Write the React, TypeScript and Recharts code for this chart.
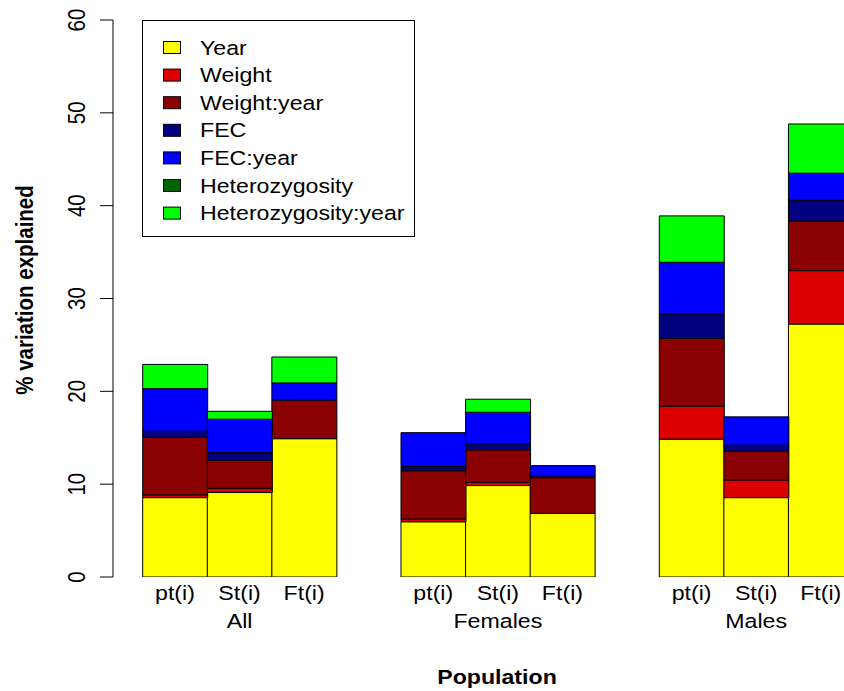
import React from 'react';
import { BarChart, Bar, XAxis, YAxis, Legend, Label } from 'recharts';

// Categories
const groups = ['All', 'Females', 'Males'];
const measures = ['pt(i)', 'St(i)', 'Ft(i)'];
const yTicks = [0, 10, 20, 30, 40, 50, 60];

// Series (order: All pt/St/Ft, Females pt/St/Ft, Males pt/St/Ft)
const seriesNames = ['Year', 'Weight', 'Weight:year', 'FEC', 'FEC:year', 'Heterozygosity', 'Heterozygosity:year'];
const seriesColors = ['#FFFF00', '#DD0000', '#8B0000', '#000080', '#0000FF', '#006400', '#00FF00'];

const yearVals = [8.55, 9.1, 14.9, 5.95, 9.85, 6.85, 14.85, 8.55, 27.25];
const weightVals = [0.3, 0.45, 0, 0.3, 0.35, 0, 3.55, 1.9, 5.75];
const weightYearVals = [6.2, 3.0, 4.15, 5.2, 3.5, 3.85, 7.3, 3.1, 5.35];
const fecVals = [0.65, 0.85, 0, 0.45, 0.65, 0.2, 2.6, 0.65, 2.25];
const fecYearVals = [4.6, 3.6, 1.85, 3.65, 3.4, 1.1, 5.6, 3.05, 2.9];
const hetVals = [0, 0, 0, 0, 0, 0, 0, 0, 0];
const hetYearVals = [2.6, 0.85, 2.8, 0, 1.4, 0, 5.0, 0, 5.3];

const seriesValues = [yearVals, weightVals, weightYearVals, fecVals, fecYearVals, hetVals, hetYearVals];

type Row = { key: string; group?: string; measure?: string; [k: string]: any };

const data: Row[] = [];
groups.forEach((g, gi) => {
  if (gi > 0) data.push({ key: `gap${gi}` });
  measures.forEach((m, mi) => {
    const idx = gi * measures.length + mi;
    const row: Row = { key: `${g}|${m}`, group: g, measure: m };
    seriesValues.forEach((vals, si) => {
      row[`s${si}`] = vals[idx];
    });
    data.push(row);
  });
});

const FONT = '"Liberation Sans", Arial, sans-serif';
const SX = 1.13;
const FS = 20.5;

const XTick = (props: any) => {
  const { x, payload } = props;
  const row = data.find((r) => r.key === payload.value);
  if (!row || !row.measure) return <g />;
  const mi = measures.indexOf(row.measure);
  return (
    <g>
      <text
        transform={`translate(${x}, 600) scale(${SX},1)`}
        textAnchor="middle"
        fontFamily={FONT}
        fontSize={FS}
        fill="#000"
      >
        {row.measure}
      </text>
      {mi === 1 && (
        <text
          transform={`translate(${x}, 628) scale(${SX},1)`}
          textAnchor="middle"
          fontFamily={FONT}
          fontSize={FS}
          fill="#000"
        >
          {row.group}
        </text>
      )}
    </g>
  );
};

const YTick = (props: any) => {
  const { y, payload } = props;
  return (
    <text
      transform={`translate(77, ${y}) scale(${SX},1) rotate(-90)`}
      textAnchor="middle"
      dominantBaseline="central"
      fontFamily={FONT}
      fontSize={FS}
      fill="#000"
    >
      {payload.value}
    </text>
  );
};

const YLabel = () => (
  <text
    transform={`translate(25, 290) scale(${SX},1) rotate(-90)`}
    textAnchor="middle"
    dominantBaseline="central"
    fontFamily={FONT}
    fontSize={FS}
    fontWeight="bold"
    fill="#000"
  >
    % variation explained
  </text>
);

const XLabel = () => (
  <text
    transform={`translate(497, 684) scale(${SX},1)`}
    textAnchor="middle"
    fontFamily={FONT}
    fontSize={FS}
    fontWeight="bold"
    fill="#000"
  >
    Population
  </text>
);

const LegendBox = () => (
  <svg width={274} height={218} style={{ display: 'block' }}>
    <rect x={0.5} y={0.5} width={272} height={216} fill="#fff" stroke="#000" strokeWidth={1} />
    {seriesNames.map((name, i) => {
      const cy = 27.5 + i * 27.6;
      return (
        <g key={name}>
          <rect x={21.5} y={cy - 6} width={17} height={12} fill={seriesColors[i]} stroke="#000" strokeWidth={1} />
          <text
            transform={`translate(58, ${cy}) scale(${SX},1)`}
            dominantBaseline="central"
            fontFamily={FONT}
            fontSize={FS}
            fill="#000"
          >
            {name}
          </text>
        </g>
      );
    })}
  </svg>
);

export default function App() {
  return (
    <div
      style={{
        position: 'absolute',
        left: 0,
        top: 0,
        width: 844,
        height: 691,
        overflow: 'hidden',
        background: '#fff',
      }}
    >
      <BarChart
        width={853}
        height={691}
        data={data}
        margin={{ top: 20, right: 0, bottom: 0, left: 0 }}
        barCategoryGap={0}
        barGap={0}
      >
        <XAxis
          dataKey="key"
          height={114}
          axisLine={false}
          tickLine={false}
          interval={0}
          padding={{ left: 29.7, right: 0 }}
          tick={<XTick />}
        >
          <Label content={<XLabel />} />
        </XAxis>
        <YAxis
          width={113}
          domain={[0, 60]}
          ticks={yTicks}
          type="number"
          allowDataOverflow
          axisLine={{ stroke: '#000', strokeWidth: 1 }}
          tickLine={{ stroke: '#000', strokeWidth: 1 }}
          tickSize={13}
          tick={<YTick />}
        >
          <Label content={<YLabel />} />
        </YAxis>
        <Legend
          layout="vertical"
          align="center"
          verticalAlign="middle"
          wrapperStyle={{ left: 142, top: 20, width: 274, height: 218 }}
          content={<LegendBox />}
        />
        {seriesNames.map((name, i) => (
          <Bar
            key={name}
            dataKey={`s${i}`}
            name={name}
            stackId="a"
            fill={seriesColors[i]}
            stroke="#000"
            strokeWidth={1}
            isAnimationActive={false}
          />
        ))}
      </BarChart>
    </div>
  );
}
